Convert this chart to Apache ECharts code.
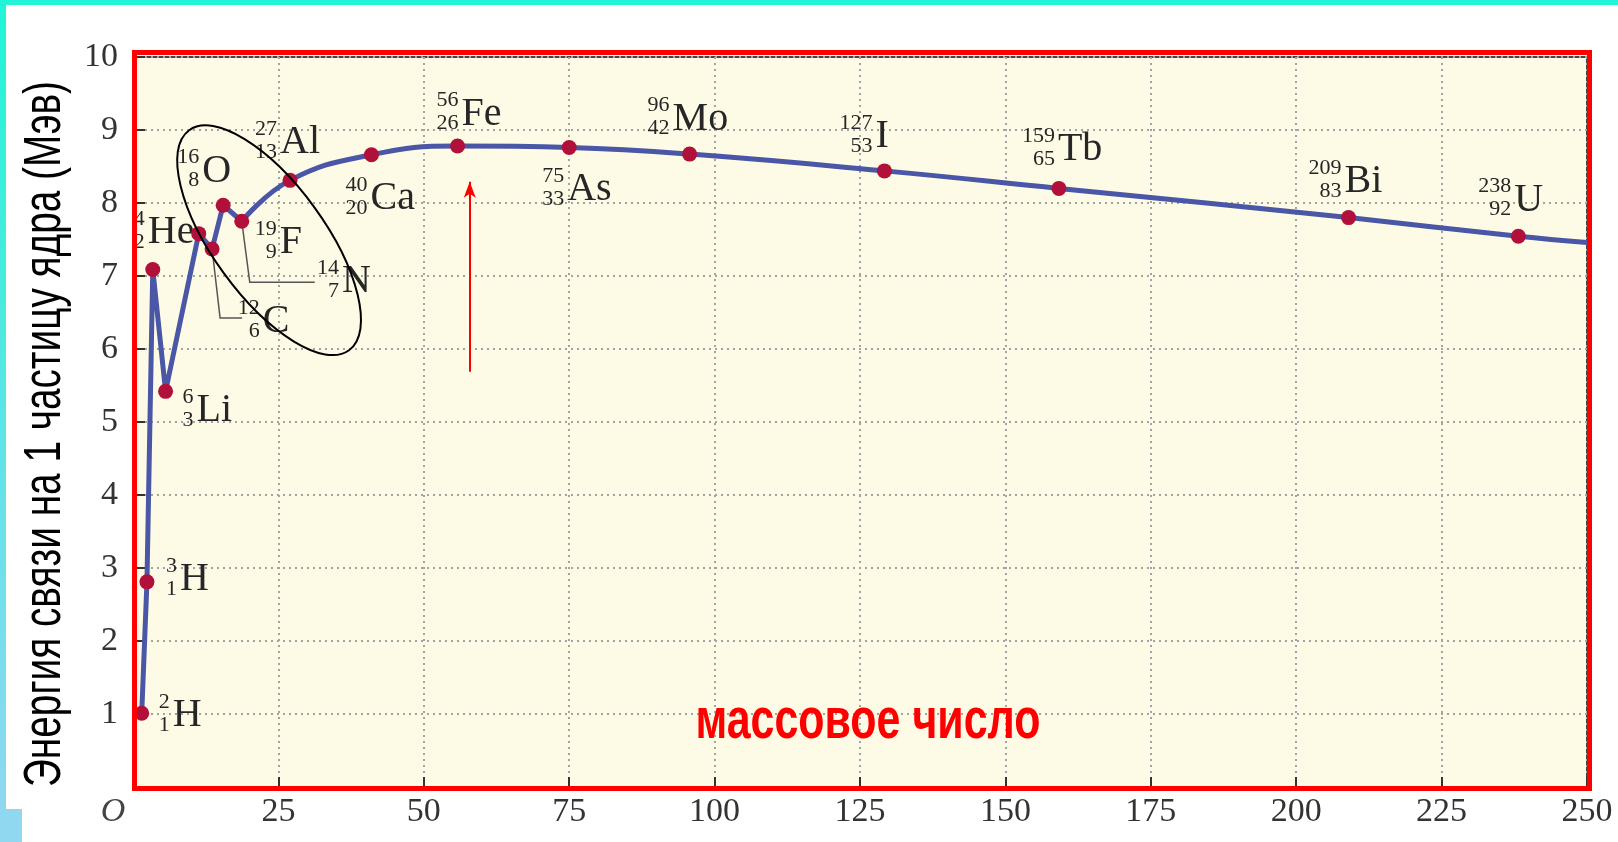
<!DOCTYPE html>
<html><head><meta charset="utf-8">
<script src="https://cdn.jsdelivr.net/npm/echarts@6/dist/echarts.min.js"></script>
<style>html,body{margin:0;padding:0;background:#fff;}#c{width:1618px;height:842px;}</style>
</head><body><div id="c"></div>
<script>
// ---- data ----
const massX    = [1.5, 2.4, 3.4, 5.6, 11.3, 13.6, 15.5, 18.7, 27, 41, 55.8, 75, 95.7, 129.2, 159.2, 209, 238.2];
const energy   = [1.01, 2.81, 7.09, 5.42, 7.58, 7.37, 7.97, 7.75, 8.31, 8.66, 8.78, 8.76, 8.67, 8.44, 8.20, 7.80, 7.545];
const elements = ['H','H','He','Li','C','N','O','F','Al','Ca','Fe','As','Mo','I','Tb','Bi','U'];
const massNumbers   = ['2','3','4','6','12','14','16','19','27','40','56','75','96','127','159','209','238'];
const atomicNumbers = ['1','1','2','3','6','7','8','9','13','20','26','33','42','53','65','83','92'];
const curveEnd = [250, 7.46];          // where the curve leaves the plot
const lightCount = 8;                  // points joined by straight segments
const xTickValues = [0,25,50,75,100,125,150,175,200,225,250];
const yTickValues = [1,2,3,4,5,6,7,8,9,10];
const yTitle = 'Энергия связи на 1 частицу ядра (Мэв)';
const xTitle = 'массовое число';
const ellipseCenter = [23.4, 7.49];
const arrowFrom = [57.9, 5.69], arrowTo = [57.9, 8.29];

// ---- layout (pixel offsets of labels from their point) ----
const labelOffset = [[31,15],[33,11],[-5,-24],[31,32],[64,101],[130,46],[-21,-21],[38,34],[-10,-25],[-1,57],[4,-19],[-2,55],[-17,-22],[-9,-21],[-1,-26],[-4,-23],[-4,-23]];
const leaders = {5: [[0,0],[8,69],[30,69]], 7: [[0,0],[8,61],[73,61]]};

const pts = massX.map((a,i)=>[a, energy[i]]);
const lightData = pts.slice(0, lightCount);
const heavyData = pts.slice(lightCount-1).concat([curveEnd]);
const labelData = pts.map((p,i)=>[p[0], p[1], i]);

const SERIF = '"Liberation Serif", "DejaVu Serif", serif';
const LINE = '#4A56A6', DOT = '#B0103A', INK = '#262626';

function txt(x, y, s, size, align){
  return {type:'text', x:x, y:y, style:{text:s, font: size+'px '+SERIF, fill:INK,
    align:align, textAlign:align, verticalAlign:'middle', textVerticalAlign:'middle'}};
}

const chart = echarts.init(document.getElementById('c'), null, {renderer:'canvas'});
chart.setOption({
  animation:false,
  backgroundColor:'#ffffff',
  grid:{left:133, top:57, width:1454, height:730, show:true, backgroundColor:'#FDFBE5', borderColor:'#444', borderWidth:2},
  xAxis:{type:'value', min:0, max:250, interval:25,
    axisLine:{show:true, lineStyle:{color:'#333', width:2}},
    axisTick:{show:true, inside:true, length:10, lineStyle:{color:'#333', width:2}},
    splitLine:{show:true, lineStyle:{type:[2,4], color:'#a3a3a3', width:2}},
    axisLabel:{margin:8, color:'#333', fontFamily:'Liberation Serif', fontSize:34,
      formatter:(v)=> v===0 ? '{o|O}' : String(v),
      rich:{o:{fontStyle:'italic', fontFamily:'Liberation Serif', fontSize:34, color:'#444', padding:[0,40,0,0]}}}
  },
  yAxis:{type:'value', min:0, max:10, interval:1,
    axisLine:{show:true, lineStyle:{color:'#333', width:2}},
    axisTick:{show:true, inside:true, length:12, lineStyle:{color:'#333', width:2}},
    splitLine:{show:true, lineStyle:{type:[2,4], color:'#a3a3a3', width:2}},
    axisLabel:{margin:15, color:'#333', fontFamily:'Liberation Serif', fontSize:34, showMinLabel:false}
  },
  series:[
    {type:'line', data:lightData, showSymbol:false, smooth:false, z:3,
      lineStyle:{color:LINE, width:5}},
    {type:'line', data:heavyData, showSymbol:false, smooth:0.45, z:3,
      lineStyle:{color:LINE, width:5},
      markLine:{silent:true, symbol:['none','arrow'], symbolSize:[9,16], animation:false,
        lineStyle:{color:'#ff0000', width:2, type:'solid'}, label:{show:false},
        data:[[{coord:arrowFrom},{coord:arrowTo}]]}},
    {type:'scatter', data:pts, symbol:'circle', symbolSize:15, z:5,
      itemStyle:{color:DOT, opacity:1}},
    {type:'custom', data:labelData, clip:false, z:4, encode:{x:0, y:1},
      renderItem:function(params, api){
        const i = api.value(2);
        const p = api.coord([api.value(0), api.value(1)]);
        const o = labelOffset[i];
        const sx = p[0]+o[0], by = p[1]+o[1];
        const ch = [
          txt(sx, by-13, elements[i], 40, 'left'),
          txt(sx-3, by-26.5, massNumbers[i], 22, 'right'),
          txt(sx-3, by-3.5, atomicNumbers[i], 22, 'right')
        ];
        if (leaders[i]) {
          ch.unshift({type:'polyline', z2:-1, shape:{points:leaders[i].map(d=>[p[0]+d[0], p[1]+d[1]])},
            style:{stroke:'#555', lineWidth:1.5, fill:null}});
        }
        return {type:'group', children:ch};
      }},
    {type:'custom', data:[ellipseCenter], clip:false, z:6, encode:{x:0, y:1},
      renderItem:function(params, api){
        const c = api.coord([api.value(0), api.value(1)]);
        return {type:'ellipse', x:c[0], y:c[1], rotation:36*Math.PI/180,
          shape:{cx:0, cy:0, rx:56, ry:136},
          style:{fill:null, stroke:'#000', lineWidth:2}};
      }}
  ],
  graphic:[
    {type:'rect', z:100, silent:true, shape:{x:0, y:0, width:1618, height:5}, style:{fill:'#22F4D8'}},
    {type:'rect', z:100, silent:true, shape:{x:0, y:0, width:6, height:810},
      style:{fill:new echarts.graphic.LinearGradient(0,0,0,1,[{offset:0,color:'#22F4D8'},{offset:1,color:'#8FD8F0'}])}},
    {type:'rect', z:100, silent:true, shape:{x:0, y:809, width:22, height:33}, style:{fill:'#8FD8F0'}},
    {type:'rect', z:100, silent:true, shape:{x:134.5, y:52.5, width:1455, height:736},
      style:{fill:null, stroke:'#ff0000', lineWidth:5}},
    {type:'text', z:101, silent:true, x:46, y:434, rotation:Math.PI/2, scaleX:0.76,
      style:{text:yTitle, font:'51px "Liberation Sans", Arial, sans-serif', fill:'#000',
        align:'center', textAlign:'center', verticalAlign:'middle', textVerticalAlign:'middle'}},
    {type:'text', z:101, silent:true, x:868, y:722, scaleX:0.74,
      style:{text:xTitle, font:'bold 58px "Liberation Sans", Arial, sans-serif', fill:'#ff0000',
        align:'center', textAlign:'center', verticalAlign:'middle', textVerticalAlign:'middle'}}
  ]
});
</script></body></html>
